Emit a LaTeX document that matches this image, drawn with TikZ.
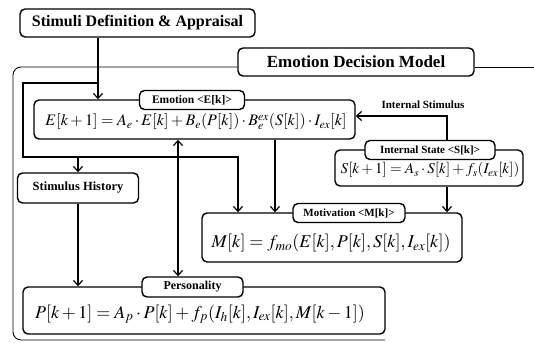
\documentclass[tikz,border=0pt]{standalone}
\usepackage{mathptmx}
\usepackage{fontspec}
\setmainfont{Liberation Serif}
\usetikzlibrary{arrows.meta}
\tikzset{
  box/.style={draw, line width=1.4pt, rounded corners=5pt, fill=white, inner sep=0pt},
  lab/.style={box, font=\bfseries\fontsize{11}{13}\selectfont},
  bigtitle/.style={box, font=\bfseries\fontsize{16}{19}\selectfont},
  eq/.style={inner sep=0pt},
  conn/.style={line width=1.2pt},
  arr/.style={conn, -{Straight Barb[length=5pt,width=9pt,line width=1.2pt]}},
  arrtwo/.style={conn, {Straight Barb[length=5pt,width=9pt,line width=1.2pt]}-{Straight Barb[length=5pt,width=9pt,line width=1.2pt]}},
  frameline/.style={line width=0.9pt, rounded corners=8pt}
}
\begin{document}
\begin{tikzpicture}[x=1pt,y=-1pt]
\useasboundingbox (0,0) rectangle (534,342);
% title boxes
\node[bigtitle, minimum width=235pt, minimum height=28pt] (stim) at (137.5,23) {Stimuli Definition \& Appraisal};
\node[bigtitle, minimum width=236pt, minimum height=28pt, font=\bfseries\fontsize{17}{20}\selectfont] (edm) at (356,62) {Emotion Decision Model};
% frame
\coordinate (fr1) at (13,67);
\coordinate (fr2) at (13,340);
\coordinate (fr3) at (385,340);
\coordinate (fr4) at (534,67);
\draw[frameline] (edm.west |- fr1) -- (fr1) -- (fr2) -- (fr3);
\draw[frameline] (edm.east |- fr4) -- (fr4);
% main boxes
\node[box, minimum width=321pt, minimum height=39pt] (emo) at (194.5,119.5) {};
\node[eq, font=\fontsize{16}{19}\selectfont] (emoeq) at (196,122) {$E[k+1]=A_e\cdot E[k]+B_e(P[k])\cdot B_e^{ex}(S[k])\cdot I_{ex}[k]$};
\node[lab, minimum width=105pt, minimum height=19pt, font=\bfseries\fontsize{11.5}{13}\selectfont] (emolab) at (192,100) {Emotion <E[k]>};

\node[box, minimum width=188pt, minimum height=36pt] (sbox) at (429,168) {};
\node[eq, font=\fontsize{15}{18}\selectfont] (seq) at (430,170) {$S[k+1]=A_s\cdot S[k]+f_s(I_{ex}[k])$};
\node[lab, minimum width=130pt, minimum height=19pt] (slab) at (430,150) {Internal State <S[k]>};

\node[box, minimum width=260pt, minimum height=49pt] (mbox) at (332,237.5) {};
\node[eq, font=\fontsize{18}{21}\selectfont] (meq) at (331,243) {$M[k]=f_{mo}(E[k],P[k],S[k],I_{ex}[k])$};
\node[lab, minimum width=112pt, minimum height=19pt] (mlab) at (349,213) {Motivation <M[k]>};

\node[box, minimum width=362pt, minimum height=47pt] (pbox) at (204,310.5) {};
\node[eq, font=\fontsize{18}{21}\selectfont] (peq) at (200,314) {$P[k+1]=A_p\cdot P[k]+f_p(I_h[k],I_{ex}[k],M[k-1])$};
\node[lab, minimum width=101pt, minimum height=20pt, font=\bfseries\fontsize{12}{14}\selectfont] (plab) at (192.5,287) {Personality};

\node[box, minimum width=121pt, minimum height=30pt, font=\bfseries\fontsize{12.5}{15}\selectfont] (hist) at (78,188) {Stimulus History};

\node[font=\bfseries\fontsize{11}{13}\selectfont, inner sep=1pt] (istext) at (423,105) {Internal Stimulus};

% connectors
\coordinate (j1) at (98,83);
\coordinate (c1) at (23,83);
\coordinate (c2) at (23,157);
\coordinate (c3) at (238,157);
\coordinate (j2) at (78,157);
\coordinate (xb) at (178,0);
\coordinate (xe) at (275,0);
\coordinate (xs) at (447,0);
\coordinate (is) at (447,116);

\draw[arr] (stim.south -| j1) -- (emo.north -| j1);
\draw[arr] (j1) -- (c1) -- (c2) -- (c3) -- (mbox.north -| c3);
\draw[arr] (j2) -- (hist.north);
\draw[arr] (hist.south) -- (hist.south |- pbox.north);
\draw[arrtwo] (emo.south -| xb) -- (plab.north -| xb);
\draw[arr] (emo.south -| xe) -- (mbox.north -| xe);
\draw[arr] (sbox.south -| xs) -- (mbox.north -| xs);
\draw[arr] (slab.north -| xs) -- (is) -- (emo.east |- is);
\end{tikzpicture}
\end{document}
